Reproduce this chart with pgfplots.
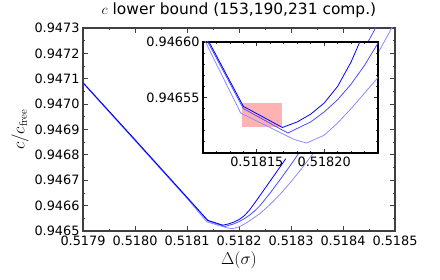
\documentclass[border=0pt]{standalone}
\usepackage[no-math]{fontspec}
\setmainfont{DejaVu Sans}
\usepackage{pgfplots}
\pgfplotsset{compat=1.18}

\definecolor{darkc}{rgb}{0,0,1}
\definecolor{medc}{rgb}{0.3,0.3,1}
\definecolor{lightc}{rgb}{0.55,0.55,1}
\definecolor{boxred}{rgb}{1,0.70,0.70}

\begin{document}
\begin{tikzpicture}
\useasboundingbox (-83bp,-49bp) rectangle (357bp,231bp);
\begin{axis}[name=main, at={(0,0)}, anchor=south west,
  width=312bp, height=203bp, scale only axis,
  xmin=0.5179, xmax=0.5185, ymin=0.9465, ymax=0.9473,
  xtick={0.5179,0.518,0.5181,0.5182,0.5183,0.5184,0.5185},
  ytick={0.9465,0.9466,0.9467,0.9468,0.9469,0.947,0.9471,0.9472,0.9473},
  minor x tick num=1, minor y tick num=1,
  scaled ticks=false,
  tick align=inside,
  major tick length=5bp, minor tick length=2.5bp,
  axis line style={draw=black!75, line width=1.6bp},
  every tick/.style={draw=black!75, line width=0.8bp},
  /pgf/number format/assume math mode=true,
  xticklabel style={/pgf/number format/.cd, fixed, fixed zerofill, precision=4, /tikz/.cd, yshift=-1.5bp},
  yticklabel style={/pgf/number format/.cd, fixed, fixed zerofill, precision=4},
  tick label style={font=\fontsize{12.9}{14}\selectfont},
  title={$c$ lower bound (153,190,231 comp.)},
  title style={font=\fontsize{15.5}{18}\selectfont, at={(axis description cs:0.5,1)}, anchor=south, yshift=1bp},
  xlabel={$\Delta(\sigma)$},
  xlabel style={font=\fontsize{16}{19}\selectfont, at={(axis description cs:0.5,0)}, anchor=north, yshift=-17bp},
  ylabel={$c/c_{\mathrm{free}}$},
  ylabel style={font=\fontsize{16}{19}\selectfont, at={(axis description cs:-0.202,0.5)}, anchor=center},
]
\addplot[lightc, line width=0.8bp] coordinates {
(0.5179,0.947083) (0.5180,0.946856) (0.5181,0.946629) (0.518138,0.946536)
(0.518178,0.946512) (0.518187,0.946509) (0.5182,0.946516) (0.51821,0.946527)
(0.51822,0.946540) (0.51823,0.946554) (0.51824,0.946568) (0.51826,0.946605)
(0.51828,0.946647) (0.5183,0.946694) (0.51832,0.946745) (0.51834,0.946799)
(0.51838,0.946912) (0.51842,0.947037) (0.51846,0.947174) (0.5185,0.947323)};
\addplot[medc, line width=0.8bp] coordinates {
(0.5179,0.947084) (0.5180,0.946858) (0.5181,0.946631) (0.51814,0.946540)
(0.518173,0.946518) (0.51819,0.946528) (0.5182,0.946537) (0.51821,0.946548)
(0.51822,0.946562) (0.51823,0.946579) (0.51824,0.946599) (0.51826,0.946650)
(0.51828,0.946705) (0.5183,0.946762) (0.51832,0.946822) (0.51836,0.946943)
(0.5184,0.947074) (0.51844,0.947215) (0.51848,0.947365)};
\addplot[darkc, line width=0.8bp] coordinates {
(0.5179,0.947085) (0.5180,0.946860) (0.5181,0.946633) (0.51814,0.946542)
(0.518169,0.946523) (0.51818,0.946528) (0.51819,0.946535) (0.5182,0.946545)
(0.51821,0.946560) (0.51822,0.946582) (0.51823,0.946610) (0.51825,0.946668)
(0.51827,0.946726) (0.51829,0.946785)};
\end{axis}
\begin{axis}[name=inset, at={(120bp,78bp)}, anchor=south west,
  width=175bp, height=111bp, scale only axis,
  xmin=0.51811, xmax=0.51824, ymin=0.9465, ymax=0.9466,
  xtick={0.51815,0.5182}, ytick={0.94655,0.9466},
  minor xtick={0.51811,0.51812,0.51813,0.51814,0.51816,0.51817,0.51818,0.51819,0.51821,0.51822,0.51823},
  minor ytick={0.94651,0.94652,0.94653,0.94654,0.94656,0.94657,0.94658,0.94659},
  scaled ticks=false,
  tick align=inside,
  major tick length=4.5bp, minor tick length=2.5bp,
  axis background/.style={fill=white},
  axis line style={draw=black, line width=1.3bp},
  every tick/.style={draw=black!80, line width=0.8bp},
  /pgf/number format/assume math mode=true,
  xticklabel style={/pgf/number format/.cd, fixed, fixed zerofill, precision=5},
  yticklabel style={/pgf/number format/.cd, fixed, fixed zerofill, precision=5},
  tick label style={font=\fontsize{12.9}{14}\selectfont},
]
\addplot[fill=boxred, draw=none] coordinates {(0.518139,0.946523) (0.518169,0.946523) (0.518169,0.946545) (0.518139,0.946545)} -- cycle;
\addplot[lightc, line width=0.8bp] coordinates {
(0.5179,0.947083) (0.5180,0.946856) (0.5181,0.946629) (0.518138,0.946536)
(0.518178,0.946512) (0.518187,0.946509) (0.5182,0.946516) (0.51821,0.946527)
(0.51822,0.946540) (0.51823,0.946554) (0.51824,0.946568) (0.51826,0.946605)};
\addplot[medc, line width=0.8bp] coordinates {
(0.5179,0.947084) (0.5180,0.946858) (0.5181,0.946631) (0.51814,0.946540)
(0.518173,0.946518) (0.51819,0.946528) (0.5182,0.946537) (0.51821,0.946548)
(0.51822,0.946562) (0.51823,0.946579) (0.51824,0.946599) (0.51826,0.946650)};
\addplot[darkc, line width=0.8bp] coordinates {
(0.5179,0.947085) (0.5180,0.946860) (0.5181,0.946633) (0.51814,0.946542)
(0.518169,0.946523) (0.51818,0.946528) (0.51819,0.946535) (0.5182,0.946545)
(0.51821,0.946560) (0.51822,0.946582) (0.51823,0.946610) (0.51825,0.946668)};
\end{axis}
\end{tikzpicture}
\end{document}
